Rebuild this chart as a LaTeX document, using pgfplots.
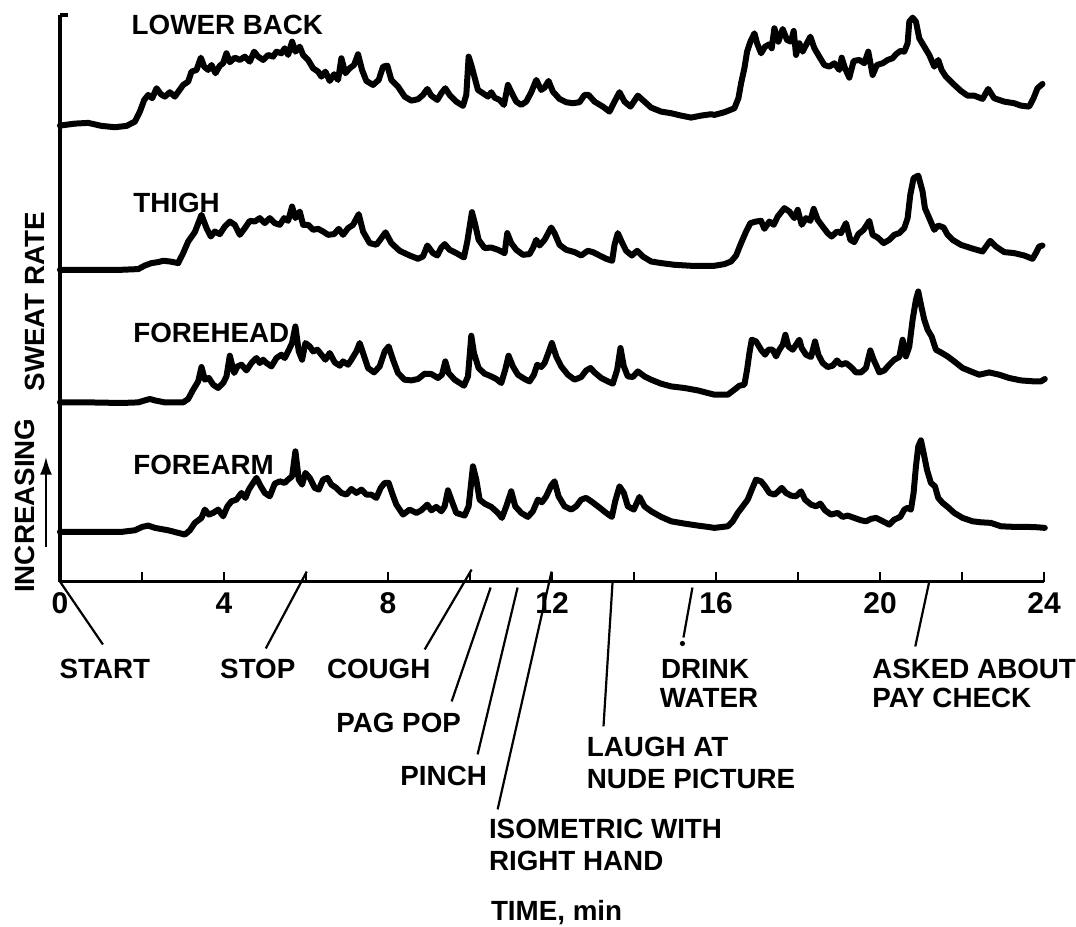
\documentclass[border=0pt]{standalone}
\usepackage{fontspec}
\setmainfont{Liberation Sans}
\usepackage{pgfplots}
\pgfplotsset{compat=1.18}
\usetikzlibrary{arrows.meta}

\begin{document}
\begin{tikzpicture}[
  lbl/.style={font=\fontsize{13.9}{15}\selectfont\bfseries, inner sep=0pt},
  lead/.style={line width=1.1pt},
]
\begin{axis}[
  x=20.52pt, y=0.5pt,
  xmin=0, xmax=24, ymin=0, ymax=567,
  axis x line*=bottom, axis y line*=left,
  axis line style={line width=1.7pt},
  xtick={0,4,...,24}, minor xtick={2,6,...,22},
  ytick=\empty,
  tick align=inside,
  major tick length=5pt, minor tick length=5pt,
  tick style={line width=1.3pt, black},
  xticklabel style={font=\fontsize{15}{16}\selectfont\bfseries, inner sep=0pt, yshift=-5.5pt},
  /pgf/number format/assume math mode=true,
  clip=false,
  trace/.style={line width=3pt, line join=round, line cap=round, black},
]
% page frame
\path (-1.462,582) rectangle (24.756,-345);

% lower back
\addplot[trace] coordinates {
(0,456.3)(0.365,458.3)(0.690,459)(1.015,456)(1.340,454.7)(1.624,456)(1.827,460.3)(1.949,470.3)(2.055,482)(2.152,487)(2.250,483.7)(2.355,493.7)(2.461,487.7)(2.558,485.3)(2.680,489.7)(2.802,485.3)(2.900,491)(3.005,497)(3.127,500.3)(3.208,510.3)(3.330,512)(3.436,524.3)(3.517,515.3)(3.614,512)(3.696,517)(3.793,508.7)(3.899,516.3)(3.980,518.7)(4.061,528.7)(4.142,519.7)(4.264,524.3)(4.386,522)(4.508,525.3)(4.630,520.3)(4.735,530.3)(4.833,525.3)(4.955,522)(5.076,527)(5.198,525.3)(5.279,530.3)(5.401,528.7)(5.482,533.7)(5.564,527)(5.661,540.3)(5.742,530.3)(5.848,535.3)(5.929,527)(6.051,522)(6.173,513.7)(6.295,510.3)(6.376,505.3)(6.473,510.3)(6.579,501)(6.685,507.7)(6.782,502)(6.863,523.7)(6.961,508.7)(7.066,513.7)(7.172,517)(7.269,527.7)(7.367,512)(7.472,501)(7.635,497)(7.773,502)(7.879,515.3)(7.984,516.3)(8.081,502)(8.244,495.3)(8.406,485.3)(8.569,481.3)(8.731,482.7)(8.853,487)(8.959,493)(9.056,486.3)(9.202,482)(9.300,488.7)(9.397,493.7)(9.503,487)(9.665,480.3)(9.828,476)(9.909,487)(9.966,525.3)(10.031,517)(10.096,507)(10.193,492)(10.315,488.7)(10.437,485.3)(10.518,489.7)(10.599,484.3)(10.721,482)(10.827,477)(10.924,497)(11.022,488.7)(11.127,480.3)(11.249,477)(11.371,480.3)(11.493,489.7)(11.615,502)(11.736,492)(11.818,494.3)(11.915,501)(12.021,490.3)(12.183,483)(12.346,479.7)(12.508,478.7)(12.670,479.7)(12.792,487)(12.890,487)(13.036,480.3)(13.239,475.3)(13.401,470.3)(13.523,480.3)(13.645,489.7)(13.767,480.3)(13.913,475.3)(14.092,486.3)(14.254,480.3)(14.417,474.3)(14.660,470.3)(14.904,468.7)(15.148,466.3)(15.391,464.3)(15.635,466.3)(15.879,467.7)(15.960,467)(16.204,469.7)(16.447,473.7)(16.545,483.7)(16.610,498.7)(16.691,513.7)(16.756,530.3)(16.837,540.3)(16.935,548.7)(17.000,538.7)(17.097,528.7)(17.195,535.3)(17.300,537.7)(17.357,533.7)(17.422,553.7)(17.519,540.3)(17.625,553)(17.731,542)(17.828,540.3)(17.893,551)(17.950,527)(18.031,538.7)(18.112,530.3)(18.194,537)(18.299,545.3)(18.397,533.7)(18.518,525.3)(18.640,517)(18.762,515.3)(18.884,518.7)(19.006,512)(19.063,524.3)(19.144,513.7)(19.249,504.3)(19.355,521)(19.493,522)(19.615,518.7)(19.712,530.3)(19.818,507)(19.924,517)(20.062,518.7)(20.184,522)(20.305,523.7)(20.387,527.7)(20.492,531)(20.590,530.3)(20.671,538.7)(20.712,560.3)(20.793,564.3)(20.874,560.3)(20.955,543.7)(21.077,535.3)(21.199,527)(21.321,515.3)(21.418,522)(21.499,512)(21.605,505.3)(21.767,498.7)(21.970,491)(22.133,486.3)(22.295,486.3)(22.498,483)(22.636,493)(22.782,483.7)(23.026,480.3)(23.270,478.7)(23.432,476.3)(23.635,475.3)(23.741,483.7)(23.838,493.7)(23.960,498)
};

% thigh
\addplot[trace] coordinates {
(0,312)(0.690,312)(1.503,312)(1.909,312.7)(2.071,316.3)(2.234,318.7)(2.396,319.7)(2.518,321)(2.680,320.3)(2.883,318.7)(3.005,328.7)(3.127,340.3)(3.289,349.7)(3.452,367)(3.574,353.7)(3.679,345.3)(3.777,350.3)(3.899,347.7)(4.020,355.3)(4.142,360.3)(4.264,357)(4.386,347)(4.508,353.7)(4.630,361)(4.751,360.3)(4.873,363.7)(4.995,358.7)(5.117,363.7)(5.239,358.7)(5.361,357)(5.466,363.7)(5.564,361)(5.661,375.3)(5.742,363.7)(5.848,370.3)(5.929,357)(6.051,357)(6.173,352)(6.295,353)(6.417,350.3)(6.538,347)(6.685,347.7)(6.798,353)(6.904,347)(7.026,353.7)(7.148,357)(7.286,367.7)(7.391,350.3)(7.554,338.7)(7.716,337)(7.838,343.7)(7.940,349.5)(8.081,338.7)(8.284,331)(8.528,326.3)(8.731,323)(8.853,325.3)(8.959,336.3)(9.097,328.7)(9.202,326.3)(9.300,334.3)(9.381,337.7)(9.503,332)(9.665,328.7)(9.852,324.3)(9.933,340.3)(10.047,369.7)(10.128,357)(10.209,342)(10.356,333.7)(10.518,334.3)(10.680,332)(10.843,328.7)(10.908,348.7)(11.005,338.7)(11.127,332)(11.290,327)(11.452,327.7)(11.533,333.7)(11.615,342)(11.696,336.3)(11.818,342)(11.980,354.3)(12.061,348.7)(12.183,337)(12.346,332)(12.549,329.7)(12.711,326.3)(12.873,331)(12.995,329.7)(13.158,326.3)(13.320,323)(13.466,321)(13.523,337)(13.604,348.7)(13.702,339.7)(13.807,331)(13.946,326.3)(14.075,331)(14.214,325.3)(14.417,320.3)(14.660,318.7)(14.985,317)(15.391,316)(15.797,316)(15.960,316)(16.204,317.7)(16.366,320.3)(16.488,326.3)(16.610,338.7)(16.732,350.3)(16.837,358.7)(16.975,360.3)(17.097,361)(17.178,353)(17.300,360.3)(17.406,357)(17.503,365.3)(17.666,373.7)(17.787,370.3)(17.909,363.7)(17.991,372)(18.088,357)(18.194,363.7)(18.299,361)(18.380,373)(18.478,362)(18.600,355.3)(18.722,348.7)(18.819,345.3)(18.949,350.3)(19.046,348.7)(19.168,358.7)(19.274,342)(19.371,339.7)(19.469,347.7)(19.599,352)(19.737,361)(19.818,347)(19.940,344.3)(20.086,338.7)(20.224,342)(20.346,347)(20.468,348.7)(20.590,353.7)(20.671,363.7)(20.736,387)(20.817,403.7)(20.931,406.3)(21.036,390.3)(21.093,373.7)(21.199,363.7)(21.321,352)(21.418,356.3)(21.548,354.3)(21.646,347)(21.767,342)(21.970,337)(22.214,333.7)(22.498,330.3)(22.685,341)(22.823,335.3)(23.026,329.7)(23.270,328.7)(23.513,326.3)(23.717,323)(23.798,328.7)(23.879,335.3)(23.960,336.3)
};

% forehead
\addplot[trace] coordinates {
(0,179.3)(0.690,179.3)(1.503,178.7)(1.909,179.3)(2.071,181.3)(2.193,182.7)(2.315,181.3)(2.558,179.3)(3.005,179.3)(3.127,182.7)(3.249,192)(3.371,200.3)(3.452,214.7)(3.533,202)(3.631,203.7)(3.736,197)(3.858,193.7)(3.980,198.7)(4.061,205.3)(4.142,226)(4.248,208.7)(4.329,215.3)(4.427,217)(4.548,211.3)(4.670,218.7)(4.792,223.7)(4.873,218.7)(4.955,222)(5.036,218.7)(5.158,215.3)(5.279,223.7)(5.401,227)(5.482,223.7)(5.564,230.3)(5.661,238.7)(5.742,255.3)(5.824,230.3)(5.905,222)(5.986,238.7)(6.092,235.3)(6.173,230.3)(6.278,232)(6.376,227)(6.473,222)(6.579,228.7)(6.701,219.3)(6.823,216)(6.904,220.3)(7.026,217)(7.107,222)(7.229,230.3)(7.310,238.7)(7.391,228.7)(7.513,213.7)(7.659,209.3)(7.797,215.3)(7.919,230.3)(8.016,235.3)(8.122,222)(8.244,208.7)(8.406,202)(8.569,201.3)(8.731,202.7)(8.894,208)(9.056,207.7)(9.218,203.7)(9.316,207)(9.397,220.3)(9.478,208.7)(9.625,202)(9.852,196)(9.950,205.3)(10.031,246)(10.096,228.7)(10.209,213.7)(10.356,208)(10.518,205.3)(10.640,202.7)(10.762,198.7)(10.859,212)(10.940,226)(11.046,215.3)(11.168,207)(11.330,202.7)(11.452,200.3)(11.558,207)(11.639,217)(11.736,214.7)(11.818,218.7)(11.915,229.3)(11.996,238.7)(12.102,225.3)(12.224,215.3)(12.386,207)(12.549,202)(12.711,204.7)(12.833,211.3)(12.938,213.7)(13.036,209.3)(13.198,203.7)(13.361,200.3)(13.482,198)(13.588,212)(13.669,233.7)(13.751,215.3)(13.848,205.3)(13.970,204.7)(14.092,210.3)(14.254,205.3)(14.417,202)(14.660,198)(14.904,195.3)(15.229,193.7)(15.554,191.3)(15.797,188.7)(15.960,187)(16.285,187)(16.447,192)(16.569,196)(16.691,197)(16.756,212)(16.813,228.7)(16.870,242)(16.975,240.3)(17.097,232)(17.195,227)(17.276,232)(17.381,232)(17.463,225.3)(17.544,232)(17.625,237)(17.690,247)(17.763,235.3)(17.869,232)(17.950,237)(18.031,242)(18.088,233.7)(18.194,227)(18.315,224.7)(18.413,240.3)(18.494,227)(18.600,218.7)(18.722,214.7)(18.843,216)(18.949,221.3)(19.046,217)(19.168,218.7)(19.290,214.7)(19.412,209.3)(19.534,209.3)(19.656,213.7)(19.761,231.3)(19.842,222)(19.924,214.7)(19.980,209.3)(20.102,211.3)(20.224,217)(20.346,222)(20.468,224.7)(20.549,242)(20.630,225.3)(20.712,235.3)(20.793,262)(20.874,282)(20.931,290.3)(20.996,277)(21.077,262)(21.158,252)(21.256,245.3)(21.361,232)(21.483,229.3)(21.646,225.3)(21.808,220.3)(22.011,213.7)(22.214,210.3)(22.417,207)(22.661,209.3)(22.904,207)(23.148,203.7)(23.432,201.3)(23.757,200.3)(23.920,200.3)(24.017,202.7)
};

% forearm
\addplot[trace] coordinates {
(0,49.7)(0.690,49.7)(1.503,49.7)(1.827,51.3)(2.006,54.7)(2.152,56)(2.315,53.7)(2.640,51.3)(3.046,47)(3.168,51.3)(3.289,58.7)(3.452,63.7)(3.533,72)(3.631,67)(3.736,68.7)(3.858,72)(3.980,65.3)(4.085,75.3)(4.183,80.3)(4.305,82)(4.427,88.7)(4.524,83.7)(4.605,92)(4.711,98.7)(4.792,103.7)(4.898,95.3)(4.995,88.7)(5.117,85.3)(5.239,98)(5.361,100.3)(5.482,98.7)(5.564,102)(5.661,105.3)(5.742,130.3)(5.824,102)(5.905,97)(5.986,108.7)(6.092,103.7)(6.213,93.7)(6.311,92)(6.417,102)(6.522,103.7)(6.620,97)(6.741,93.7)(6.863,88.7)(6.985,87)(7.107,92.7)(7.229,88.7)(7.351,92)(7.472,87)(7.594,87)(7.716,83.7)(7.822,93.7)(7.919,98.7)(8.016,98.7)(8.097,88.7)(8.203,77)(8.366,67)(8.528,72)(8.691,68.7)(8.812,71.3)(8.959,77)(9.056,71.3)(9.178,74.7)(9.300,70.3)(9.381,75.3)(9.462,91.3)(9.543,82)(9.665,68.7)(9.868,66)(9.966,75.3)(10.071,115.3)(10.153,102)(10.234,82)(10.356,78)(10.518,74.7)(10.680,68.7)(10.778,63.7)(10.884,75.3)(11.005,90.3)(11.103,75.3)(11.249,68.7)(11.411,64.7)(11.533,70.3)(11.655,82)(11.753,79.3)(11.858,85.3)(11.980,96)(12.061,100.3)(12.159,85.3)(12.305,75.3)(12.468,72)(12.589,75.3)(12.711,82)(12.833,83.7)(12.955,80.3)(13.117,75.3)(13.320,68.7)(13.458,64.7)(13.540,80.3)(13.645,95.3)(13.751,88.7)(13.848,75.3)(13.994,72)(14.132,84.7)(14.254,75.3)(14.417,70.3)(14.660,64.7)(14.904,60.3)(15.229,58)(15.554,56)(15.797,54.7)(15.960,53.7)(16.285,55.3)(16.407,60.3)(16.529,68.7)(16.650,75.3)(16.772,82)(16.870,92)(16.975,102)(17.097,100.3)(17.195,95.3)(17.300,88.7)(17.422,87)(17.519,90.3)(17.601,93.7)(17.706,88.7)(17.828,86)(17.950,85.3)(18.072,90.3)(18.169,82)(18.315,77)(18.437,75.3)(18.543,78)(18.657,71.3)(18.803,67)(18.965,68.7)(19.087,64.7)(19.209,66)(19.371,63.7)(19.534,61.3)(19.656,60.3)(19.777,62.7)(19.899,63.7)(20.021,61.3)(20.224,57)(20.346,62)(20.492,64.7)(20.590,72)(20.671,73.7)(20.752,72)(20.817,88.7)(20.874,115.3)(20.931,135.3)(20.996,141.3)(21.061,128.7)(21.142,112)(21.239,98.7)(21.337,95.3)(21.418,83.7)(21.524,78.7)(21.646,74.7)(21.808,68.7)(22.011,63.7)(22.255,60.3)(22.458,59.3)(22.701,58.7)(22.945,55.3)(23.270,54.7)(23.595,54.7)(23.838,54.3)(24.017,53.7)
};

% top hook of the y axis
\draw[line width=1.7pt] (0,567) -- (0.2,567);

% trace names
\node[lbl, anchor=west] at (1.74,557) {LOWER BACK};
\node[lbl, anchor=west] at (1.78,379) {THIGH};
\node[lbl, anchor=west] at (1.78,249) {FOREHEAD};
\node[lbl, anchor=west] at (1.78,117) {FOREARM};

% y axis labels
\node[lbl, rotate=90] at (-0.62,280) {SWEAT RATE};
\node[lbl, rotate=90] at (-0.853,76) {INCREASING};
\draw[line width=1.3pt, -{Latex[length=9pt,width=6pt]}] (-0.341,35) -- (-0.341,125);

% event leaders
\draw[lead] (0,0) -- (1.048,-63);
\draw[lead] (6.019,10) -- (5.019,-67);
\draw[lead] (10.039,12) -- (8.894,-68);
\draw[lead] (10.502,-6) -- (9.552,-120);
\draw[lead] (11.160,-6) -- (10.185,-173);
\draw[lead] (11.988,10) -- (10.673,-228);
\draw[lead] (13.475,-1) -- (13.255,-145);
\draw[lead] (15.424,-6) -- (15.205,-56);
\fill (15.18,-62) circle (1.3pt);
\draw[lead] (21.199,0) -- (20.858,-65);

% event names
\node[lbl] at (1.096,-87) {START};
\node[lbl] at (4.825,-87) {STOP};
\node[lbl] at (7.773,-87) {COUGH};
\node[lbl] at (8.260,-142) {PAG POP};
\node[lbl] at (9.357,-195) {PINCH};
\node[lbl, anchor=west] at (10.453,-248) {ISOMETRIC WITH};
\node[lbl, anchor=west] at (10.453,-280) {RIGHT HAND};
\node[lbl, anchor=west] at (12.841,-166) {LAUGH AT};
\node[lbl, anchor=west] at (12.841,-198) {NUDE PICTURE};
\node[lbl, anchor=west] at (14.65,-87) {DRINK};
\node[lbl, anchor=west] at (14.62,-116) {WATER};
\node[lbl, anchor=west] at (19.80,-87) {ASKED ABOUT};
\node[lbl, anchor=west] at (19.80,-116) {PAY CHECK};
\node[lbl, anchor=west] at (10.502,-331) {TIME, min};
\end{axis}
\end{tikzpicture}
\end{document}
